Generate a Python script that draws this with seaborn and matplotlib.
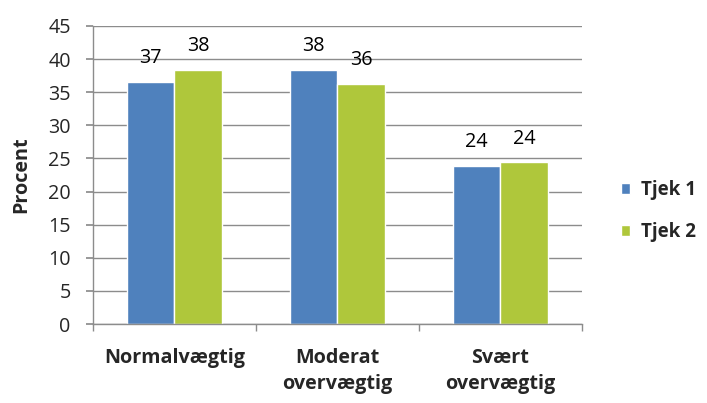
import pandas as pd
import numpy as np
import matplotlib
matplotlib.use("Agg")
import matplotlib.pyplot as plt
import seaborn as sns

categories = ["Normalvægtig", "Moderat\novervægtig", "Svært\novervægtig"]
series = ["Tjek 1", "Tjek 2"]
tjek1 = [36.6, 38.4, 23.9]
tjek2 = [38.4, 36.3, 24.4]

palette = {"Tjek 1": "#4F81BD", "Tjek 2": "#AFC73B"}

df = pd.DataFrame({
    "Kategori": categories * 2,
    "Serie": ["Tjek 1"] * 3 + ["Tjek 2"] * 3,
    "Procent": tjek1 + tjek2,
})

sns.set_theme(style="white")
plt.rcParams["font.family"] = ["Open Sans", "DejaVu Sans"]
fs = 14.2

fig = plt.figure(figsize=(7.07, 4.03), dpi=100)
ax = fig.add_axes([0.1315, 0.196, 0.6915, 0.7395])

sns.barplot(data=df, x="Kategori", y="Procent", hue="Serie", palette=palette,
            width=0.58, saturation=1, ax=ax, legend=True)

# value labels, rounded like the original
for container in ax.containers:
    ax.bar_label(container, labels=[f"{v:.0f}" for v in container.datavalues],
                 padding=10, fontsize=fs, color="black")

ax.set_ylim(0, 45)
ax.set_yticks(np.arange(0, 46, 5))
ax.set_xlim(-0.5, 2.5)
ax.yaxis.grid(True, color="#8c8c8c", linewidth=1)
ax.set_axisbelow(True)
for s in ["top", "right"]:
    ax.spines[s].set_visible(False)
for s in ["left", "bottom"]:
    ax.spines[s].set_color("#8c8c8c")
    ax.spines[s].set_linewidth(1)

ax.tick_params(axis="y", left=True, length=5, color="#8c8c8c", labelsize=fs, pad=11)
ax.tick_params(axis="x", bottom=False, labelsize=fs, pad=11)
ax.set_xticks([-0.5, 0.5, 1.5, 2.5], minor=True)
ax.tick_params(axis="x", which="minor", bottom=True, length=5, color="#8c8c8c")
for lbl in ax.get_xticklabels():
    lbl.set_fontweight("bold")
    lbl.set_linespacing(1.4)
    lbl.set_verticalalignment("top")

ax.set_xlabel("")
ax.set_ylabel("Procent", fontsize=fs, fontweight="bold", labelpad=12)

leg = ax.legend(loc="center left", bbox_to_anchor=(0.878, 0.476),
                bbox_transform=fig.transFigure, frameon=False,
                prop={"weight": "bold", "size": 13.5}, handlelength=0.5,
                handleheight=0.5, labelspacing=1.2, handletextpad=0.6,
                borderpad=0, borderaxespad=0)

fig.savefig("out.png", dpi=100)
